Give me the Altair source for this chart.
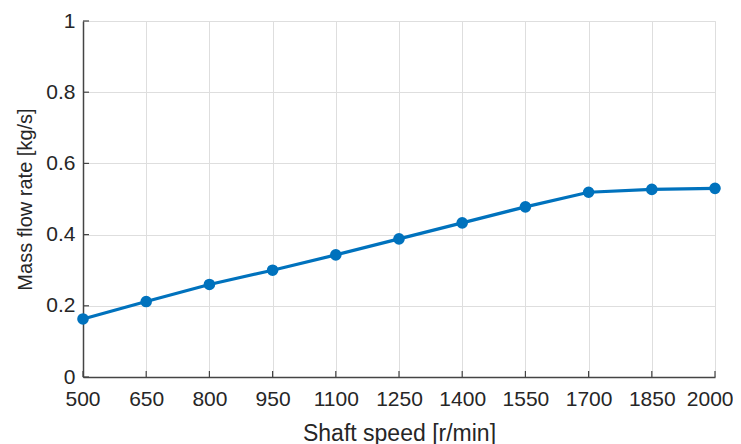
import altair as alt
import pandas as pd

speed = [500, 650, 800, 950, 1100, 1250, 1400, 1550, 1700, 1850, 2000]
flow = [0.163, 0.212, 0.260, 0.300, 0.343, 0.388, 0.433, 0.478, 0.519, 0.527, 0.530]
x_ticks = [500, 650, 800, 950, 1100, 1250, 1400, 1550, 1700, 1850, 2000]
y_ticks = [0, 0.2, 0.4, 0.6, 0.8, 1.0]

W, H = 632, 356
df = pd.DataFrame({"speed": speed, "flow": flow})
xt = pd.DataFrame({"v": x_ticks})
yt = pd.DataFrame({"v": y_ticks})

xscale = alt.Scale(domain=[500, 2000], nice=False, zero=False)
yscale = alt.Scale(domain=[0, 1], nice=False)
font = "Liberation Sans"
col = "#262626"

xaxis = alt.Axis(values=x_ticks, title="Shaft speed [r/min]", labelFontSize=21, titleFontSize=23,
                 labelFont=font, titleFont=font, labelColor=col, titleColor=col, titleFontWeight="normal",
                 domainColor="#444444", domainWidth=1.5, ticks=False, labelPadding=11, titlePadding=13,
                 gridColor="#dedede", gridWidth=1, labelFlush=True, labelFlushOffset=18, format="d")
yaxis = alt.Axis(values=y_ticks, title="Mass flow rate [kg/s]", labelFontSize=21, titleFontSize=20,
                 labelFont=font, titleFont=font, labelColor=col, titleColor=col, titleFontWeight="normal",
                 domainColor="#444444", domainWidth=1.5, ticks=False, labelPadding=8, titlePadding=10,
                 gridColor="#dedede", gridWidth=1, format="~g", labelFlush=False)

line = alt.Chart(df).mark_line(color="#0072BD", strokeWidth=3.2).encode(
    x=alt.X("speed:Q", scale=xscale, axis=xaxis),
    y=alt.Y("flow:Q", scale=yscale, axis=yaxis),
)
pts = alt.Chart(df).mark_circle(color="#0072BD", size=135, opacity=1).encode(
    x=alt.X("speed:Q", scale=xscale),
    y=alt.Y("flow:Q", scale=yscale),
)
xtick = alt.Chart(xt).mark_rule(color="#444444", strokeWidth=1.2).encode(
    x=alt.X("v:Q", scale=xscale), y=alt.value(H), y2=alt.value(H - 6))
ytick = alt.Chart(yt).mark_rule(color="#444444", strokeWidth=1.2).encode(
    y=alt.Y("v:Q", scale=yscale), x=alt.value(0), x2=alt.value(6))

chart = alt.layer(line, xtick, ytick, pts).properties(
    width=W, height=H,
    autosize=alt.AutoSizeParams(type="none"),
    padding={"left": 75, "top": 13, "right": 18, "bottom": 68},
).configure_view(stroke=None).configure(background="white")

chart.save("out.html", embed_options={"renderer": "svg", "actions": False})
